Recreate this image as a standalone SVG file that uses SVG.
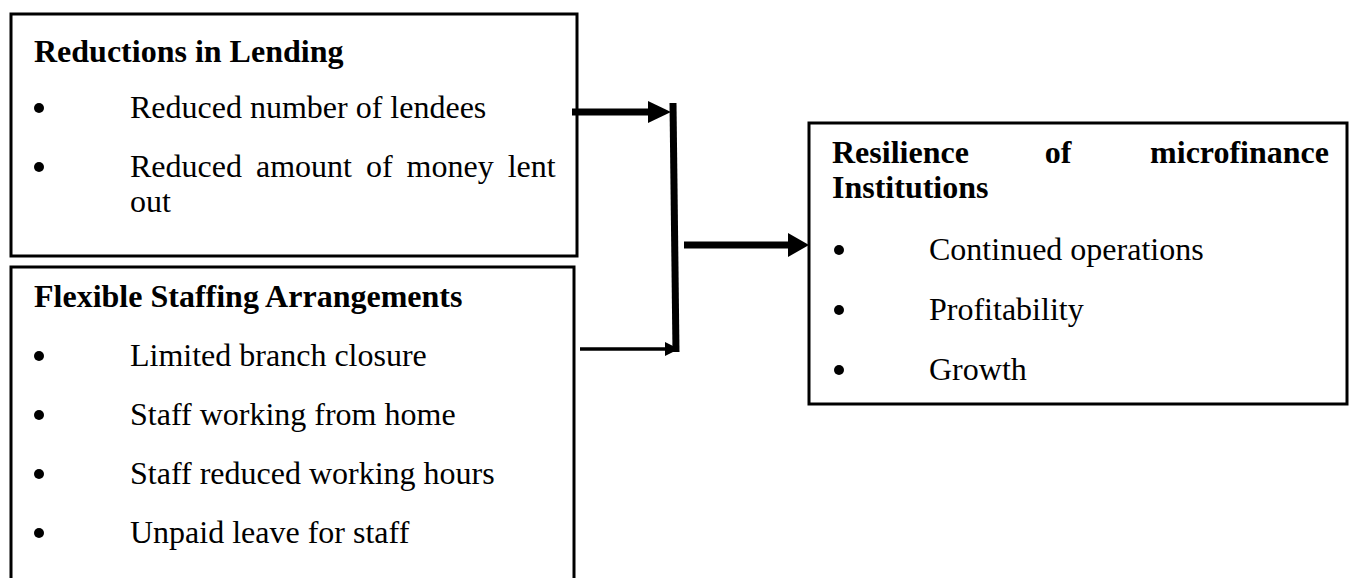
<svg xmlns="http://www.w3.org/2000/svg" width="1352" height="578" viewBox="0 0 1352 578">
<style>
.box{fill:#fff;stroke:#000;stroke-width:3}
.t{font-family:"Liberation Serif","Times New Roman",serif;font-size:32px;fill:#000}
.b{font-weight:bold}
.ln{stroke:#000;fill:none}
</style>
<rect width="1352" height="578" fill="#fff"/>
<g id="node-lending">
<rect class="box" x="11" y="14" width="566" height="242"/>
<text class="t b" x="34" y="62">Reductions in Lending</text>
<circle cx="39" cy="108" r="5"/>
<text class="t" x="130" y="118">Reduced number of lendees</text>
<circle cx="39" cy="167" r="5"/>
<text class="t" x="130" y="177" word-spacing="6">Reduced amount of money lent</text>
<text class="t" x="130" y="212">out</text>
</g>
<g id="node-staffing">
<rect class="box" x="11" y="267" width="563" height="330"/>
<text class="t b" x="34" y="307">Flexible Staffing Arrangements</text>
<circle cx="39" cy="356" r="5"/>
<text class="t" x="130" y="366">Limited branch closure</text>
<circle cx="39" cy="415" r="5"/>
<text class="t" x="130" y="425">Staff working from home</text>
<circle cx="39" cy="474" r="5"/>
<text class="t" x="130" y="484">Staff reduced working hours</text>
<circle cx="39" cy="533" r="5"/>
<text class="t" x="130" y="543">Unpaid leave for staff</text>
</g>
<g id="node-resilience">
<rect class="box" x="809" y="123" width="538" height="281"/>
<text class="t b" x="832" y="163">Resilience</text>
<text class="t b" x="1058" y="163" text-anchor="middle">of</text>
<text class="t b" x="1329" y="163" text-anchor="end">microfinance</text>
<text class="t b" x="832" y="198">Institutions</text>
<circle cx="839" cy="250" r="5"/>
<text class="t" x="929" y="260">Continued operations</text>
<circle cx="839" cy="310" r="5"/>
<text class="t" x="929" y="320">Profitability</text>
<circle cx="839" cy="370" r="5"/>
<text class="t" x="929" y="380">Growth</text>
</g>
<g id="connectors">
<line class="ln" x1="572" y1="112" x2="650" y2="112" stroke-width="7"/>
<polygon points="648,101 671,112 648,123"/>
<line class="ln" x1="673" y1="103" x2="676" y2="352" stroke-width="7"/>
<line class="ln" x1="580" y1="349" x2="667" y2="349" stroke-width="3.5"/>
<polygon points="665,342 679,349 665,356"/>
<line class="ln" x1="684" y1="245" x2="790" y2="245" stroke-width="7"/>
<polygon points="788,233 809,245 788,257"/>
</g>
</svg>
